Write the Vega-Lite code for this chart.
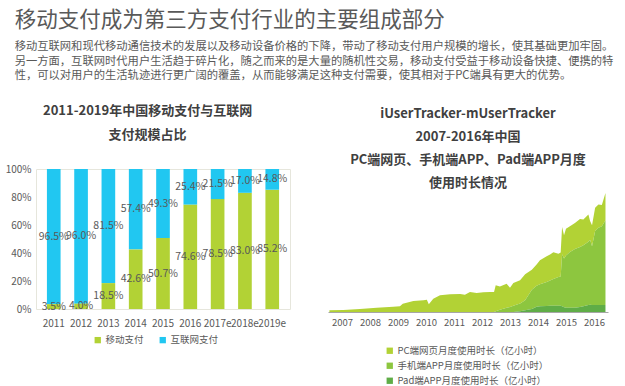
{
  "$schema": "https://vega.github.io/schema/vega-lite/v6.json",
  "background": "white",
  "padding": {"left": 4, "top": 9, "right": 5, "bottom": 2},
  "config": {
    "font": "Noto Sans CJK SC",
    "view": {"stroke": null},
    "axis": {"labelFont": "Noto Sans CJK SC", "labelColor": "#595959", "labelFontSize": 10, "labelOverlap": false},
    "legend": {"labelFont": "Noto Sans CJK SC", "labelColor": "#595959", "labelFontSize": 9.5}
  },
  "resolve": {"scale": {"color": "independent", "x": "independent", "y": "independent"}, "legend": {"color": "independent"}},
  "title": {
    "text": "移动支付成为第三方支付行业的主要组成部分",
    "subtitle": [
      "移动互联网和现代移动通信技术的发展以及移动设备价格的下降，带动了移动支付用户规模的增长，使其基础更加牢固。",
      "另一方面，互联网时代用户生活趋于碎片化，随之而来的是大量的随机性交易，移动支付受益于移动设备快捷、便携的特",
      "性，可以对用户的生活轨迹进行更广阔的覆盖，从而能够满足这种支付需要，使其相对于PC端具有更大的优势。"
    ],
    "anchor": "start",
    "frame": "bounds",
    "dx": 10,
    "fontSize": 21.5,
    "fontWeight": "normal",
    "color": "#595959",
    "subtitleFontSize": 11.3,
    "subtitleColor": "#595959",
    "subtitleLineHeight": 14.5,
    "subtitlePadding": 10,
    "offset": 23
  },
  "spacing": 37,
  "hconcat": [
    {
      "width": 254,
      "height": 140,
      "view": {"stroke": "#e6e6dc"},
      "title": {
        "text": ["2011-2019年中国移动支付与互联网", "支付规模占比"],
        "fontSize": 13,
        "fontWeight": "bold",
        "lineHeight": 24,
        "color": "#404040",
        "anchor": "middle",
        "frame": "bounds",
        "offset": 22
      },
      "data": {
        "values": [
          {"year": "2011", "type": "移动支付", "value": 0.035},
          {"year": "2011", "type": "互联网支付", "value": 0.965},
          {"year": "2012", "type": "移动支付", "value": 0.04},
          {"year": "2012", "type": "互联网支付", "value": 0.96},
          {"year": "2013", "type": "移动支付", "value": 0.185},
          {"year": "2013", "type": "互联网支付", "value": 0.815},
          {"year": "2014", "type": "移动支付", "value": 0.426},
          {"year": "2014", "type": "互联网支付", "value": 0.574},
          {"year": "2015", "type": "移动支付", "value": 0.507},
          {"year": "2015", "type": "互联网支付", "value": 0.493},
          {"year": "2016", "type": "移动支付", "value": 0.746},
          {"year": "2016", "type": "互联网支付", "value": 0.254},
          {"year": "2017e", "type": "移动支付", "value": 0.785},
          {"year": "2017e", "type": "互联网支付", "value": 0.215},
          {"year": "2018e", "type": "移动支付", "value": 0.83},
          {"year": "2018e", "type": "互联网支付", "value": 0.17},
          {"year": "2019e", "type": "移动支付", "value": 0.852},
          {"year": "2019e", "type": "互联网支付", "value": 0.148}
        ]
      },
      "transform": [
        {"stack": "value", "groupby": ["year"], "sort": [{"field": "type", "order": "descending"}], "as": ["v0", "v1"]},
        {"calculate": "(datum.v0 + datum.v1) / 2", "as": "mid"}
      ],
      "encoding": {
        "x": {
          "field": "year",
          "type": "ordinal",
          "scale": {"paddingInner": 0.5, "paddingOuter": 0.4},
          "axis": {"title": null, "labelAngle": 0, "ticks": false, "domain": false, "labelPadding": 9}
        }
      },
      "layer": [
        {
          "mark": {"type": "bar"},
          "encoding": {
            "y": {
              "field": "v0",
              "type": "quantitative",
              "scale": {"domain": [0, 1], "nice": false},
              "axis": {"title": null, "format": "%", "values": [0, 0.2, 0.4, 0.6, 0.8, 1], "ticks": false, "domain": false, "grid": false, "labelPadding": 5, "labelOverlap": false}
            },
            "y2": {"field": "v1"},
            "color": {
              "field": "type",
              "type": "nominal",
              "scale": {"domain": ["移动支付", "互联网支付"], "range": ["#b2d235", "#21c7f1"]},
              "legend": {
                "title": null,
                "orient": "none",
                "direction": "horizontal",
                "legendX": 57,
                "legendY": 166,
                "symbolType": "square",
                "symbolSize": 40,
                "symbolStrokeWidth": 0,
                "columnPadding": 14,
                "labelOffset": 3
              }
            }
          }
        },
        {
          "mark": {"type": "text", "fontSize": 10.5, "color": "#595959", "baseline": "middle", "align": "center"},
          "encoding": {
            "y": {
              "field": "mid",
              "type": "quantitative",
              "scale": {"domain": [0, 1], "nice": false},
              "axis": {"title": null, "format": "%", "values": [0, 0.2, 0.4, 0.6, 0.8, 1], "ticks": false, "domain": false, "grid": false, "labelPadding": 5, "labelOverlap": false}
            },
            "text": {"field": "value", "type": "quantitative", "format": ".1%"}
          }
        }
      ]
    },
    {
      "width": 280,
      "height": 143,
      "title": {
        "text": ["iUserTracker-mUserTracker", "2007-2016年中国", "PC端网页、手机端APP、Pad端APP月度", "使用时长情况"],
        "fontSize": 13,
        "fontWeight": "bold",
        "lineHeight": 23,
        "color": "#404040",
        "anchor": "middle",
        "frame": "group",
        "offset": -21
      },
      "data": {
        "values": [
          {"t": 2007.05, "pc": 1.7, "mob": 0, "pad": 0},
          {"t": 2007.55, "pc": 2.0, "mob": 0, "pad": 0},
          {"t": 2008.14, "pc": 3.0, "mob": 0, "pad": 0},
          {"t": 2008.74, "pc": 4.3, "mob": 0, "pad": 0},
          {"t": 2009.33, "pc": 5.3, "mob": 0, "pad": 0},
          {"t": 2009.57, "pc": 5.7, "mob": 0, "pad": 0},
          {"t": 2009.67, "pc": 8.3, "mob": 0, "pad": 0},
          {"t": 2010.05, "pc": 11.0, "mob": 0, "pad": 0},
          {"t": 2010.41, "pc": 11.7, "mob": 0, "pad": 0},
          {"t": 2010.53, "pc": 12.3, "mob": 0, "pad": 0},
          {"t": 2010.6, "pc": 7.7, "mob": 0, "pad": 0},
          {"t": 2010.76, "pc": 13.3, "mob": 0, "pad": 0},
          {"t": 2011.0, "pc": 16.7, "mob": 0, "pad": 0},
          {"t": 2011.36, "pc": 17.7, "mob": 0, "pad": 0},
          {"t": 2011.72, "pc": 18.0, "mob": 0, "pad": 0},
          {"t": 2011.89, "pc": 17.3, "mob": 0, "pad": 0},
          {"t": 2012.07, "pc": 20.0, "mob": 0, "pad": 0},
          {"t": 2012.31, "pc": 19.0, "mob": 0, "pad": 0},
          {"t": 2012.55, "pc": 19.7, "mob": 0, "pad": 0},
          {"t": 2012.79, "pc": 20.0, "mob": 0, "pad": 0},
          {"t": 2012.93, "pc": 20.0, "mob": 0, "pad": 0},
          {"t": 2012.99, "pc": 26.0, "mob": 0.7, "pad": 0},
          {"t": 2013.14, "pc": 23.3, "mob": 2.3, "pad": 0},
          {"t": 2013.38, "pc": 24.0, "mob": 4.3, "pad": 0},
          {"t": 2013.5, "pc": 19.3, "mob": 5.0, "pad": 0},
          {"t": 2013.62, "pc": 22.7, "mob": 6.3, "pad": 0},
          {"t": 2013.86, "pc": 23.3, "mob": 7.7, "pad": 0.7},
          {"t": 2014.04, "pc": 26.0, "mob": 10.0, "pad": 1.7},
          {"t": 2014.28, "pc": 20.0, "mob": 19.3, "pad": 3.0},
          {"t": 2014.45, "pc": 21.3, "mob": 21.0, "pad": 5.3},
          {"t": 2014.57, "pc": 24.0, "mob": 22.0, "pad": 5.7},
          {"t": 2014.81, "pc": 25.7, "mob": 24.0, "pad": 6.0},
          {"t": 2014.93, "pc": 26.0, "mob": 25.3, "pad": 6.3},
          {"t": 2015.05, "pc": 26.7, "mob": 26.7, "pad": 6.3},
          {"t": 2015.23, "pc": 23.3, "mob": 28.7, "pad": 6.3},
          {"t": 2015.31, "pc": 24.0, "mob": 29.3, "pad": 6.3},
          {"t": 2015.36, "pc": 27.3, "mob": 52.0, "pad": 5.7},
          {"t": 2015.43, "pc": 23.3, "mob": 48.7, "pad": 4.7},
          {"t": 2015.5, "pc": 26.7, "mob": 52.3, "pad": 4.3},
          {"t": 2015.64, "pc": 25.7, "mob": 55.7, "pad": 4.3},
          {"t": 2015.82, "pc": 26.0, "mob": 58.7, "pad": 4.3},
          {"t": 2016.0, "pc": 28.0, "mob": 60.0, "pad": 5.0},
          {"t": 2016.12, "pc": 25.7, "mob": 61.0, "pad": 5.7},
          {"t": 2016.3, "pc": 27.3, "mob": 63.3, "pad": 7.0},
          {"t": 2016.36, "pc": 18.7, "mob": 65.0, "pad": 7.3},
          {"t": 2016.43, "pc": 21.0, "mob": 58.7, "pad": 7.0},
          {"t": 2016.54, "pc": 23.3, "mob": 74.0, "pad": 7.0},
          {"t": 2016.66, "pc": 23.3, "mob": 77.3, "pad": 7.0},
          {"t": 2016.78, "pc": 21.3, "mob": 78.7, "pad": 7.0},
          {"t": 2016.91, "pc": 27.3, "mob": 84.7, "pad": 7.0}
        ]
      },
      "transform": [
        {"fold": ["pc", "mob", "pad"], "as": ["s", "v"]},
        {"calculate": "indexof(['pad', 'mob', 'pc'], datum.s)", "as": "k"}
      ],
      "mark": {"type": "area", "interpolate": "linear"},
      "encoding": {
        "x": {
          "field": "t",
          "type": "quantitative",
          "scale": {"domain": [2007, 2017], "nice": false, "zero": false},
          "axis": {
            "title": null,
            "values": [2007.5, 2008.5, 2009.5, 2010.5, 2011.5, 2012.5, 2013.5, 2014.5, 2015.5, 2016.5],
            "labelExpr": "toString(floor(datum.value))",
            "labelFontSize": 9.5,
            "ticks": false,
            "grid": false,
            "domainColor": "#a6a6a6",
            "labelPadding": 5
          }
        },
        "y": {
          "field": "v",
          "type": "quantitative",
          "stack": "zero",
          "scale": {"domain": [0, 143], "nice": false},
          "axis": null
        },
        "order": {"field": "k", "type": "quantitative", "sort": "ascending"},
        "color": {
          "field": "s",
          "type": "nominal",
          "scale": {"domain": ["pc", "mob", "pad"], "range": ["#b2d235", "#8dc63f", "#5fad47"]},
          "legend": {
            "title": null,
            "orient": "none",
            "direction": "vertical",
            "legendX": 57,
            "legendY": 177,
            "symbolType": "square",
            "symbolSize": 40,
            "symbolStrokeWidth": 0,
            "rowPadding": 4,
            "labelOffset": 3,
            "labelExpr": "datum.label == 'pc' ? 'PC端网页月度使用时长（亿小时）' : datum.label == 'mob' ? '手机端APP月度使用时长（亿小时）' : 'Pad端APP月度使用时长（亿小时）'"
          }
        }
      }
    }
  ]
}
